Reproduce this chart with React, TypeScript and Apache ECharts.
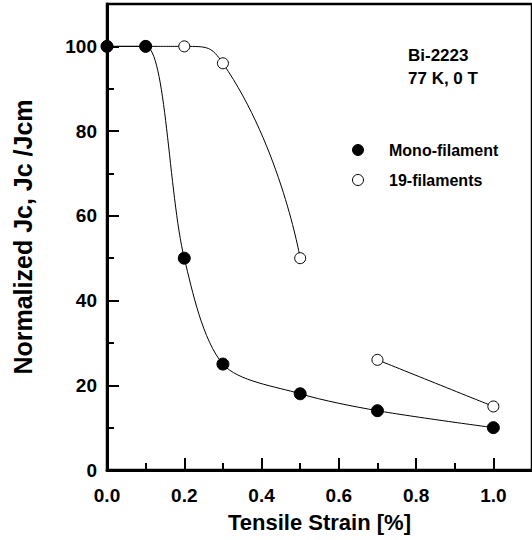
import React, { useEffect, useRef } from "react";
import * as echarts from "echarts";

// Data
const strainMono = [0, 0.1, 0.2, 0.3, 0.5, 0.7, 1.0];
const jcMono = [100, 100, 50, 25, 18, 14, 10];
const strain19 = [0, 0.1, 0.2, 0.3, 0.5, 0.7, 1.0];
const jc19 = [100, 100, 100, 96, 50, 26, 15];
const seriesNames = ["Mono-filament", "19-filaments"];
const noteLines = ["Bi-2223", "77 K, 0 T"];
const xTitle = "Tensile Strain [%]";
const yTitle = "Normalized Jc, Jc /Jcm";

const FONT = "'Liberation Sans', Arial, Helvetica, sans-serif";

export default function App() {
  const ref = useRef<HTMLDivElement>(null);

  useEffect(() => {
    if (!ref.current) return;
    const chart = echarts.init(ref.current, null, { renderer: "svg" });

    const mono = strainMono.map((x, i) => [x, jcMono[i]]);
    const fil = strain19.map((x, i) => [x, jc19[i]]);
    // the curve of the 19-filament sample is broken between 0.5 % and 0.7 %
    const filA = fil.filter((p) => p[0] <= 0.5);
    const filB = fil.filter((p) => p[0] >= 0.7);

    const axisCommon = {
      axisLine: { show: true, lineStyle: { color: "#000", width: 3 } },
      axisTick: { show: true, inside: true, length: 12, lineStyle: { color: "#000", width: 2 } },
      minorTick: { show: true, splitNumber: 2, length: 7, lineStyle: { color: "#000", width: 2 } },
      splitLine: { show: false },
      minorSplitLine: { show: false },
    };

    chart.setOption({
      animation: false,
      backgroundColor: "#fff",
      textStyle: { fontFamily: FONT, color: "#000", fontWeight: "bold" },
      grid: {
        left: 107,
        top: 4,
        width: 428,
        height: 466,
        show: true,
        borderColor: "#000",
        borderWidth: 2.5,
        containLabel: false,
      },
      xAxis: {
        type: "value",
        min: 0,
        max: 1.1,
        interval: 0.2,
        ...axisCommon,
        axisLabel: {
          show: true,
          margin: 16,
          fontSize: 19,
          fontWeight: "bold",
          color: "#000",
          fontFamily: FONT,
          showMaxLabel: false,
          formatter: (v: number) => v.toFixed(1),
        },
        name: xTitle,
        nameLocation: "middle",
        nameGap: 41,
        nameTextStyle: { fontSize: 22, fontWeight: "bold", color: "#000", fontFamily: FONT },
      },
      yAxis: {
        type: "value",
        min: 0,
        max: 110,
        interval: 20,
        ...axisCommon,
        axisLabel: {
          show: true,
          margin: 10,
          fontSize: 19,
          fontWeight: "bold",
          color: "#000",
          fontFamily: FONT,
          showMaxLabel: false,
        },
        name: yTitle,
        nameLocation: "middle",
        nameGap: 72,
        nameTextStyle: { fontSize: 25, fontWeight: "bold", color: "#000", fontFamily: FONT },
      },
      legend: {
        show: true,
        orient: "vertical",
        left: 347,
        top: 137,
        icon: "circle",
        itemWidth: 52,
        itemHeight: 11,
        itemGap: 14,
        textStyle: { fontSize: 16, fontWeight: "bold", color: "#000", fontFamily: FONT },
        data: [
          { name: seriesNames[0], itemStyle: { color: "#000", borderColor: "#000", borderWidth: 1 } },
          { name: seriesNames[1], itemStyle: { color: "#fff", borderColor: "#000", borderWidth: 1 } },
        ],
      },
      graphic: [
        {
          type: "text",
          left: 408,
          top: 47,
          style: { text: noteLines[0], fontSize: 17, fontWeight: "bold", fill: "#000", fontFamily: FONT },
        },
        {
          type: "text",
          left: 408,
          top: 70,
          style: { text: noteLines[1], fontSize: 17, fontWeight: "bold", fill: "#000", fontFamily: FONT },
        },
      ],
      series: [
        {
          name: seriesNames[1],
          type: "line",
          data: filA,
          smooth: 0.6,
          symbol: "circle",
          symbolSize: 11,
          lineStyle: { color: "#000", width: 1 },
          itemStyle: { color: "#fff", borderColor: "#000", borderWidth: 1 },
          z: 2,
        },
        {
          name: seriesNames[1],
          type: "line",
          data: filB,
          smooth: 0.4,
          symbol: "circle",
          symbolSize: 11,
          lineStyle: { color: "#000", width: 1 },
          itemStyle: { color: "#fff", borderColor: "#000", borderWidth: 1 },
          z: 2,
        },
        {
          name: seriesNames[0],
          type: "line",
          data: mono,
          smooth: 0.3,
          symbol: "circle",
          symbolSize: 12,
          lineStyle: { color: "#000", width: 1 },
          itemStyle: { color: "#000", borderColor: "#000", borderWidth: 1 },
          z: 3,
        },
      ],
    });

    return () => chart.dispose();
  }, []);

  return <div ref={ref} style={{ width: 532, height: 540, position: "absolute", left: 0, top: 0 }} />;
}
